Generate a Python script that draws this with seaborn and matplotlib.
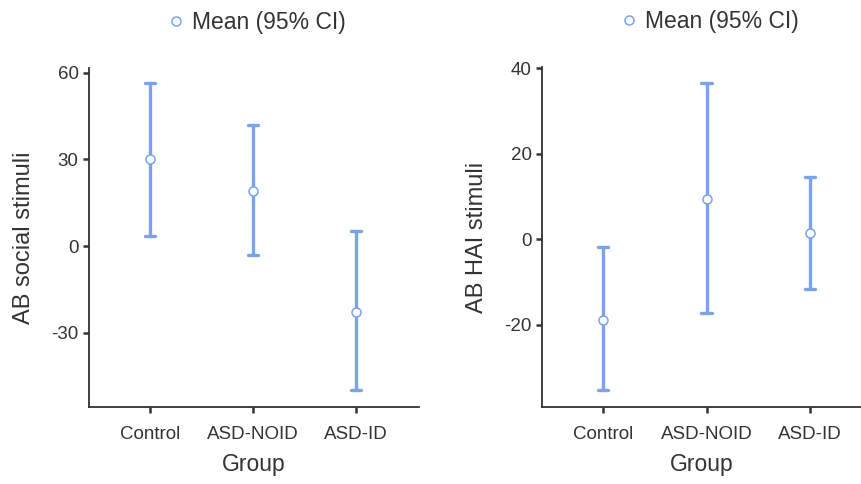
import numpy as np
import pandas as pd
import matplotlib
matplotlib.use("Agg")
import matplotlib.pyplot as plt
import seaborn as sns
from matplotlib.lines import Line2D

# Données (moyenne et IC 95%)
groups = ["Control", "ASD-NOID", "ASD-ID"]

social_mean = [30.2, 19.1, -22.9]
social_low = [3.5, -3.1, -49.9]
social_high = [56.5, 42.0, 5.2]

hai_mean = [-19.0, 9.4, 1.4]
hai_low = [-35.4, -17.3, -11.7]
hai_high = [-1.9, 36.5, 14.5]

blue = "#7BA3EB"
dark = "#333333"

sns.set_theme(style="ticks")
plt.rcParams["font.family"] = ["Liberation Sans", "DejaVu Sans"]
plt.rcParams["axes.unicode_minus"] = False


def long_table(low, mean, high):
    # trois valeurs par groupe : médiane = moyenne, min/max = bornes de l'IC
    rows = []
    for g, lo, m, hi in zip(groups, low, mean, high):
        for v in (lo, m, hi):
            rows.append({"Group": g, "value": v})
    return pd.DataFrame(rows)


fig = plt.figure(figsize=(8.62, 4.84), dpi=100)
ax1 = fig.add_axes([0.1033, 0.1591, 0.3828, 0.7004])
ax2 = fig.add_axes([0.6288, 0.1591, 0.3712, 0.7025])

panels = [
    (ax1, long_table(social_low, social_mean, social_high), "AB social stimuli",
     (-55.8, 61.7), [-30, 0, 30, 60], (-0.59, 2.61), 0.502),
    (ax2, long_table(hai_low, hai_mean, hai_high), "AB HAI stimuli",
     (-39.3, 40.3), [-20, 0, 20, 40], (-0.59, 2.5), 0.52),
]

for ax, df, ylab, ylim, yticks, xlim, leg_x in panels:
    sns.pointplot(data=df, x="Group", y="value", order=groups, ax=ax,
                  estimator="median", errorbar=("pi", 100),
                  color=blue, linestyle="none", marker="o",
                  markersize=6.5, markeredgewidth=1.1,
                  markerfacecolor="white", markeredgecolor=blue,
                  capsize=0.1, err_kws={"linewidth": 2.4})
    # points au-dessus des barres d'erreur
    for line in ax.lines:
        if line.get_marker() == "o":
            line.set_zorder(5)
    ax.set_ylim(*ylim)
    ax.set_xlim(*xlim)
    ax.set_yticks(yticks)
    ax.set_xlabel("Group", fontsize=16.5, color=dark, labelpad=7)
    ax.set_ylabel(ylab, fontsize=17, color=dark, labelpad=12)
    ax.tick_params(axis="both", labelsize=13.5, colors=dark,
                   length=4, width=1.8, direction="out")
    ax.tick_params(axis="x", pad=10)
    for s in ["left", "bottom"]:
        ax.spines[s].set_color(dark)
        ax.spines[s].set_linewidth(1.3)
    sns.despine(ax=ax)
    handle = Line2D([], [], marker="o", linestyle="none", markersize=6.5,
                    markerfacecolor="white", markeredgecolor=blue,
                    markeredgewidth=1.1)
    ax.legend(handles=[handle], labels=["Mean (95% CI)"], frameon=False,
              loc="center", bbox_to_anchor=(leg_x, 1.135), fontsize=16.5,
              handletextpad=0.2, handlelength=1.0, labelcolor=dark)

fig.savefig("out.png", dpi=100)
